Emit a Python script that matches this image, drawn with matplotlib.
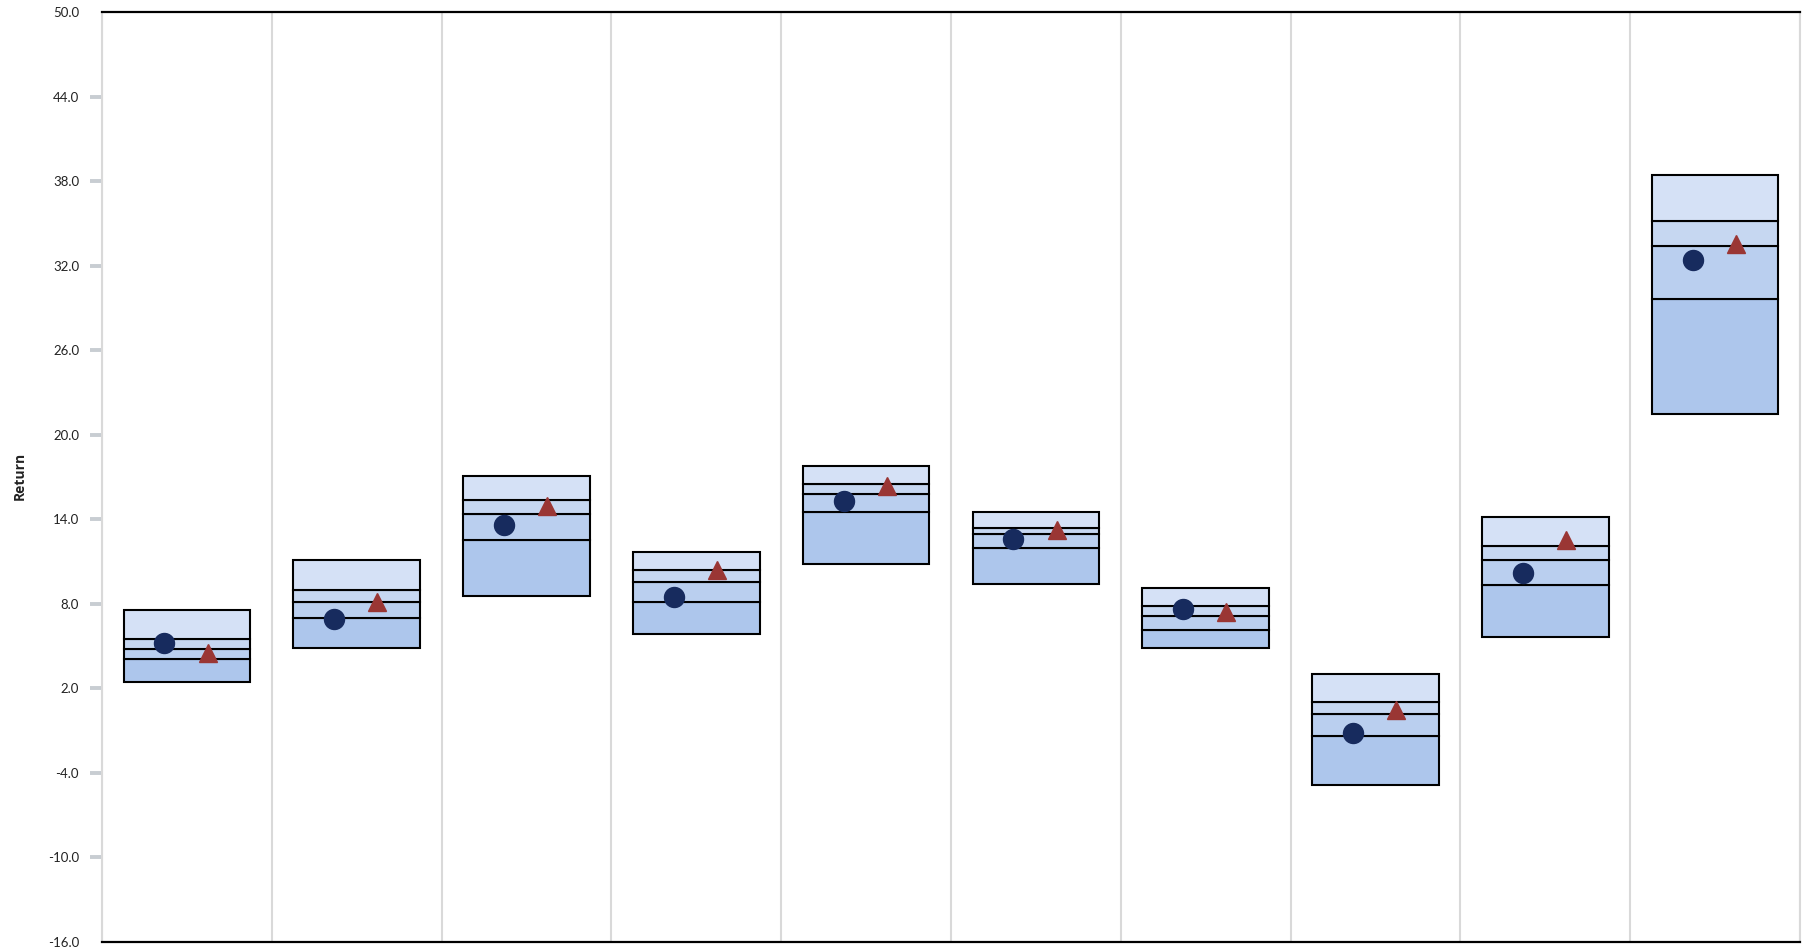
import matplotlib
matplotlib.use("Agg")
import matplotlib.pyplot as plt
import numpy as np

# ---- data ----
categories = list(range(1, 11))
p5  = [2.48, 4.88, 8.54, 5.89, 10.84, 9.44, 4.88, -4.87, 5.61, 21.50]
p25 = [4.05, 7.01, 12.52, 8.16, 14.51, 11.95, 6.15, -1.35, 9.30, 29.65]
p50 = [4.76, 8.14, 14.36, 9.56, 15.78, 12.94, 7.16, 0.21, 11.12, 33.39]
p75 = [5.47, 9.00, 15.40, 10.39, 16.50, 13.41, 7.88, 1.04, 12.11, 35.20]
p95 = [7.57, 11.12, 17.06, 11.67, 17.77, 14.51, 9.13, 3.01, 14.17, 38.45]
portfolio = [5.23, 6.94, 13.58, 8.50, 15.31, 12.61, 7.64, -1.14, 10.20, 32.43]
benchmark = [4.50, 8.16, 14.97, 10.43, 16.37, 13.26, 7.45, 0.50, 12.56, 33.53]
yticks = [50.0, 44.0, 38.0, 32.0, 26.0, 20.0, 14.0, 8.0, 2.0, -4.0, -10.0, -16.0]

band_colors = ["#ADC6EC", "#BACFEF", "#C6D7F1", "#D5E1F6"]

fig = plt.figure(figsize=(18.07, 9.5), dpi=100)
ax = fig.add_axes([102/1807, 1-942/950, (1800-102)/1807, (942-12)/950])

x = np.arange(len(categories))
lows = [p5, p25, p50, p75]
highs = [p25, p50, p75, p95]
for lo, hi, c in zip(lows, highs, band_colors):
    lo = np.array(lo); hi = np.array(hi)
    ax.bar(x, hi - lo, bottom=lo, width=0.746, color=c, edgecolor="black",
           linewidth=1.5, zorder=3)

ax.plot(x - 0.132, portfolio, linestyle="none", marker="o", markersize=14.4,
        color="#172B5E", zorder=5)
ax.plot(x + 0.122, benchmark, linestyle="none", marker="^", markersize=13.5,
        color="#9A3634", zorder=5)

ax.set_xlim(-0.5, len(categories) - 0.5)
ax.set_ylim(-16, 50)
ax.set_yticks(yticks)
ax.set_yticklabels([f"{v:.1f}" for v in yticks], fontsize=9.5, family="Lato",
                   color="#222222")
ax.set_xticks([])
ax.set_xticks(np.arange(-0.5, len(categories)), minor=True)
ax.tick_params(axis="x", which="minor", length=0)
ax.grid(axis="x", which="minor", color="#D9D9D9", linewidth=1.5, zorder=0)
ax.tick_params(axis="y", which="major", direction="out", length=8.5, width=2.8,
               color="#C8CDD2", pad=8)
for t in ax.yaxis.get_major_ticks():
    if t.get_loc() in (50.0, -16.0):
        t.tick1line.set_visible(False)

for s in ("top", "bottom"):
    ax.spines[s].set_color("black")
    ax.spines[s].set_linewidth(1.6)
for s in ("left", "right"):
    ax.spines[s].set_color("#D9D9D9")
    ax.spines[s].set_linewidth(1.5)

fig.text(20/1807, 1-476/950, "Return", rotation=90, ha="center", va="center",
         fontsize=10, fontweight="bold", family="Open Sans", color="#222222")

fig.savefig("out.png", dpi=100)
